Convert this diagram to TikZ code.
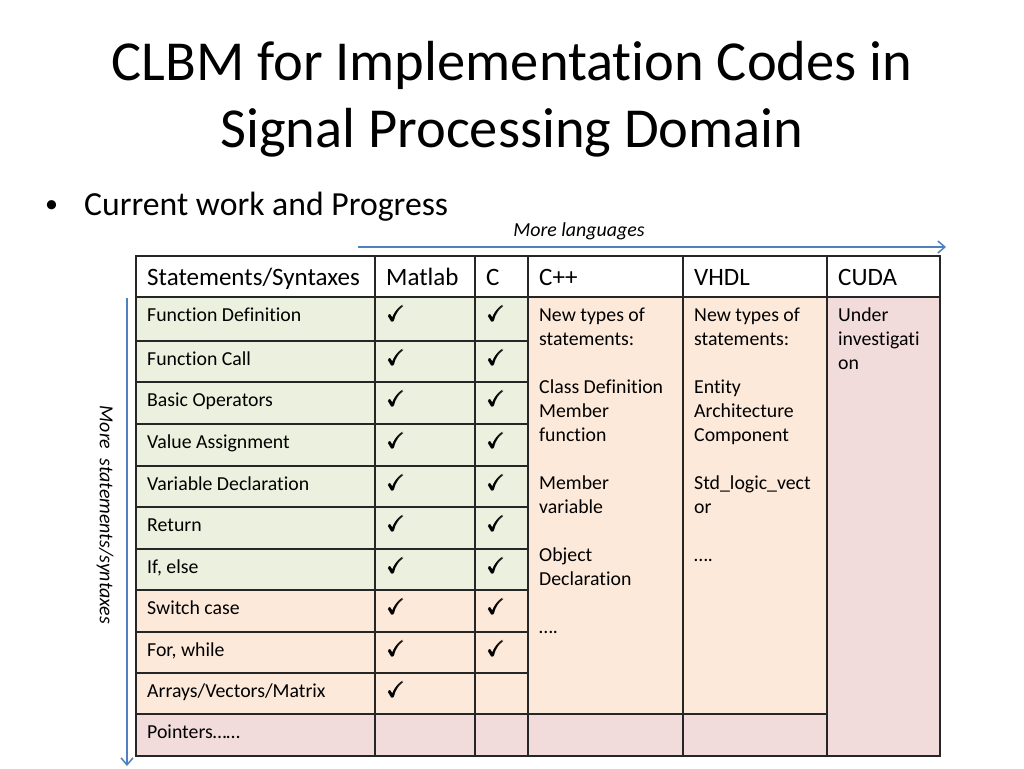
\documentclass[tikz,border=0pt]{standalone}
\usepackage{amssymb}
\usepackage{amsmath}
\usepackage{fontspec}
\setmainfont{Carlito}[Ligatures=NoCommon]
\usepackage{tikz}
\usetikzlibrary{arrows.meta}
\definecolor{greencell}{HTML}{EBF1DE}
\definecolor{peachcell}{HTML}{FDE9D9}
\definecolor{pinkcell}{HTML}{F2DCDB}
\definecolor{arrowblue}{HTML}{4F81BD}
\newcommand{\tick}{\scalebox{1.1}{$\pmb{\checkmark}$}}
\tikzstyle{grid} = [line width=1.4pt, black!85]
\tikzstyle{celltext} = [anchor=base west, inner sep=0pt, font=\fontsize{19.8}{24}\selectfont]
\tikzstyle{headtext} = [anchor=base west, inner sep=0pt, font=\fontsize{25}{30}\selectfont]
\tikzstyle{coltext} = [anchor=north west, inner sep=0pt, align=left, font=\fontsize{19.8}{24}\selectfont]
\tikzstyle{arrow} = [line width=1.5pt, arrowblue, -{Straight Barb[length=7pt,width=12pt]}]
\tikzstyle{side} = [font=\fontsize{19.9}{24}\selectfont\itshape]

\begin{document}
\begin{tikzpicture}[x=1pt, y=-1pt]
	\useasboundingbox[fill=white] (0,0) rectangle (1024,768);

	% title and bullet
	\node[anchor=base, font=\fontsize{56.5}{68}\selectfont](title1) at (512, 80){CLBM for Implementation Codes in};
	\node[anchor=base, font=\fontsize{56.5}{68}\selectfont](title2) at (512, 147){Signal Processing Domain};
	\node[anchor=base west, inner sep=0pt, font=\fontsize{26}{30}\selectfont](bullet) at (45, 212){\textbullet};
	\node[anchor=base west, inner sep=0pt, font=\fontsize{33.7}{40}\selectfont](point) at (84, 215){Current work and Progress};

	% cell fills
	\foreach \ya/\yb/\col in {297/341/greencell, 341/382/greencell, 382/424/greencell, 424/466/greencell, 466/507/greencell, 507/549/greencell, 549/590/greencell, 590/632/peachcell, 632/673/peachcell, 673/714/peachcell, 714/756/pinkcell}
		\fill[\col] (136,\ya) rectangle (528,\yb);
	\fill[peachcell] (528,297) rectangle (827,714);
	\fill[pinkcell] (528,714) rectangle (827,756);
	\fill[pinkcell] (827,297) rectangle (940,756);

	% grid lines
	\draw[grid] (136,256) rectangle (940,756);
	\foreach \x in {375, 475, 528, 683, 827}
		\draw[grid] (\x,256) -- (\x,756);
	\draw[grid] (136,297) -- (940,297);
	\foreach \y in {341, 382, 424, 466, 507, 549, 590, 632, 673, 714}
		\draw[grid] (136,\y) -- (528,\y);
	\draw[grid] (528,714) -- (827,714);

	% header
	\node[headtext](h0) at (147, 285){Statements/Syntaxes};
	\node[headtext](h1) at (386, 285){Matlab};
	\node[headtext](h2) at (486, 285){C};
	\node[headtext](h3) at (539, 285){C++};
	\node[headtext](h4) at (694, 285){VHDL};
	\node[headtext](h5) at (838, 285){CUDA};

	% rows
	\foreach \n/\ya/\txt in {1/297/Function Definition, 2/341/Function Call, 3/382/Basic Operators, 4/424/Value Assignment, 5/466/Variable Declaration, 6/507/Return, 7/549/{If, else}, 8/590/Switch case, 9/632/{For, while}, 10/673/{Arrays/Vectors/Matrix}, 11/714/Pointers……}
		\node[celltext](s\n) at (147, {\ya+24}){\txt};
	\foreach \n/\ya in {1/297, 2/341, 3/382, 4/424, 5/466, 6/507, 7/549, 8/590, 9/632, 10/673}
		\node[celltext](m\n) at (387, {\ya+24}){\tick};
	\foreach \n/\ya in {1/297, 2/341, 3/382, 4/424, 5/466, 6/507, 7/549, 8/590, 9/632}
		\node[celltext](c\n) at (487, {\ya+24}){\tick};

	% merged columns
	\node[coltext](cpp) at (539, 304.2){\strut New types of\\statements:\\[24pt]Class Definition\\Member\\function\\[24pt]Member\\variable\\[24pt]Object\\Declaration\\[24pt]….};
	\node[coltext](vhdl) at (694, 304.2){\strut New types of\\statements:\\[24pt]Entity\\Architecture\\Component\\[24pt]Std\_logic\_vect\\or\\[24pt]….};
	\node[coltext](cuda) at (838, 304.2){\strut Under\\investigati\\on};

	% arrows
	\coordinate (hstart) at (358, 247);
	\coordinate (hend) at (946, 247);
	\coordinate (vstart) at (127, 298);
	\coordinate (vend) at (127, 766);
	\draw[arrow](hstart) -- (hend);
	\draw[arrow](vstart) -- (vend);
	\node[side](langs) at (579, 231){More languages};
	\node[side, rotate=-90](stmts) at (105, 515){More\ \ statements/syntaxes};
\end{tikzpicture}
\end{document}
